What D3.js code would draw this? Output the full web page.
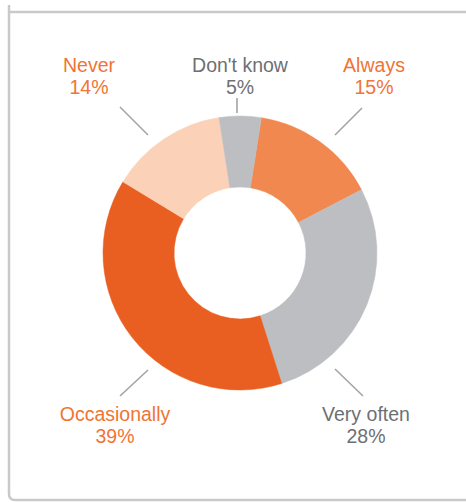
<!DOCTYPE html>
<html>
<head>
<meta charset="utf-8">
<script src="https://cdn.jsdelivr.net/npm/d3@7"></script>
<style>
  html, body { margin: 0; padding: 0; background: #fff; }
  svg { display: block; }
  text { font-family: "Liberation Sans", Arial, sans-serif; }
</style>
</head>
<body>
<svg id="chart" width="466" height="502"></svg>
<script>
// Survey answers, clockwise from the top
const categories = ["Always", "Very often", "Occasionally", "Never", "Don't know"];
const values = [15, 28, 39, 14, 5];
const valueLabels = ["15%", "28%", "39%", "14%", "5%"];

const sliceColors = {
  "Always": "#f0884f",
  "Very often": "#bdbec1",
  "Occasionally": "#e95e21",
  "Never": "#fbd2b7",
  "Don't know": "#bdbec1"
};
const textColors = {
  "Always": "#f07434",
  "Very often": "#6e6f73",
  "Occasionally": "#f07434",
  "Never": "#f07434",
  "Don't know": "#6e6f73"
};

const svg = d3.select("#chart");
const W = 466, H = 502;
const cx = 240, cy = 253;
const outerR = 137, innerR = 66;

// Frame: left and bottom edges with a rounded corner, plus the top rule
const frame = d3.path();
frame.moveTo(9, 5);
frame.lineTo(9, 494);
frame.quadraticCurveTo(9, 500, 15, 500);
frame.lineTo(W, 500);
svg.append("path")
  .attr("d", frame.toString())
  .attr("fill", "none")
  .attr("stroke", "#c9c9c9")
  .attr("stroke-width", 2.5);
svg.append("line")
  .attr("x1", 9).attr("x2", W)
  .attr("y1", 12).attr("y2", 12)
  .attr("stroke", "#c9c9c9")
  .attr("stroke-width", 2.5);

// Donut
const data = categories.map((c, i) => ({ category: c, value: values[i], label: valueLabels[i] }));
const start = 9 * Math.PI / 180;
const pie = d3.pie()
  .value(d => d.value)
  .sort(null)
  .startAngle(start)
  .endAngle(start + 2 * Math.PI);
const arc = d3.arc().innerRadius(innerR).outerRadius(outerR);

const g = svg.append("g").attr("transform", `translate(${cx},${cy})`);
g.selectAll("path.slice")
  .data(pie(data))
  .join("path")
  .attr("class", "slice")
  .attr("d", arc)
  .attr("fill", d => sliceColors[d.data.category])
  .attr("stroke", d => sliceColors[d.data.category])
  .attr("stroke-width", 0.5);

// Callout placement around the ring (offsets from the centre)
const callouts = {
  "Always":       { tx: 134,  ty: -181, line: [[122, -145], [95, -118]] },
  "Very often":   { tx: 126,  ty: 168,  line: [[95, 116], [123, 143]] },
  "Occasionally": { tx: -125, ty: 168,  line: [[-92, 117], [-120, 143]] },
  "Never":        { tx: -151, ty: -181, line: [[-120, -146], [-92, -118]] },
  "Don't know":   { tx: 0,    ty: -181, line: [[-3, -155], [-3, -140]] }
};

const labels = g.selectAll("g.callout")
  .data(data)
  .join("g")
  .attr("class", "callout");

labels.append("line")
  .attr("x1", d => callouts[d.category].line[0][0])
  .attr("y1", d => callouts[d.category].line[0][1])
  .attr("x2", d => callouts[d.category].line[1][0])
  .attr("y2", d => callouts[d.category].line[1][1])
  .attr("stroke", "#a3a4a7")
  .attr("stroke-width", 1.6);

const txt = labels.append("text")
  .attr("text-anchor", "middle")
  .attr("font-size", 19.5)
  .attr("fill", d => textColors[d.category]);
txt.append("tspan")
  .attr("x", d => callouts[d.category].tx)
  .attr("y", d => callouts[d.category].ty)
  .text(d => d.category);
txt.append("tspan")
  .attr("x", d => callouts[d.category].tx)
  .attr("y", d => callouts[d.category].ty + 21.5)
  .text(d => d.label);
</script>
</body>
</html>
